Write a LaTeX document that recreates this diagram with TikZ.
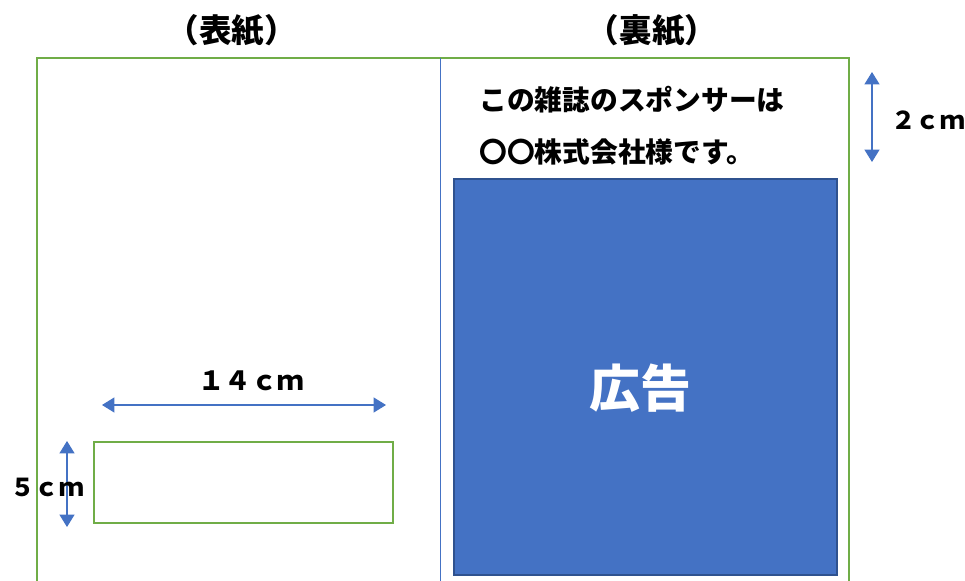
\documentclass[tikz,border=0pt]{standalone}
\usepackage{fontspec}
\newfontfamily\jp{Noto Sans CJK JP}
\usepackage{tikz}
\usetikzlibrary{arrows.meta}
\definecolor{pagegreen}{HTML}{70AD47}
\definecolor{adblue}{HTML}{4472C4}
\definecolor{adedge}{HTML}{2F528F}
\tikzset{title node/.style={font=\jp\bfseries\fontsize{18.5pt}{20pt}\selectfont,inner sep=0pt},
  size node/.style={font=\jp\bfseries\fontsize{14pt}{16pt}\selectfont,inner sep=0pt},
}
\begin{document}
\begin{tikzpicture}[x=0.02cm,y=-0.02cm,>={Triangle[length=7pt,width=8.5pt]},
    green line/.style={draw=pagegreen,line width=1.3pt},
    size arrow/.style={<->,draw=adblue,line width=0.6pt}]
	\useasboundingbox (0,0) rectangle (965,581);
	
	% pages
	\draw[green line] (37,581) |- (849,58) -- (849,581);
	\draw[adblue,line width=0.5pt] (440,58) -- (440,581);
	\node[title node] (front) at (232,31) {（表紙）};
	\node[title node] (back) at (652,31) {（裏紙）};
	
	% back page
	\node[font=\jp\bfseries\fontsize{15.8pt}{18pt}\selectfont,anchor=west,inner sep=0pt] (sponsor1) at (479,100) {この雑誌のスポンサーは};
	\node[font=\jp\bfseries\fontsize{15.8pt}{18pt}\selectfont,anchor=west,inner sep=0pt] (sponsor2) at (479,152) {〇〇株式会社様です。};
	\draw[fill=adblue,draw=adedge,line width=1pt] (454,179) rectangle (837,575);
	\node[font=\jp\bfseries\fontsize{29pt}{32pt}\selectfont,text=white,inner sep=0pt] (ad) at (640,388) {広告};
	\coordinate (top a) at (872,72);
	\coordinate (top b) at (872,162);
	\draw[size arrow] (top a) -- (top b);
	\node[size node] (two) at (928,120) {２ｃｍ};
	
	% front page
	\draw[green line] (94,442) rectangle (393,523);
	\coordinate (wide a) at (102,405);
	\coordinate (wide b) at (386,405);
	\draw[size arrow] (wide a) -- (wide b);
	\node[size node,font=\jp\bfseries\fontsize{15pt}{17pt}\selectfont] (fourteen) at (251,381) {１４ｃｍ};
	\coordinate (high a) at (67,441);
	\coordinate (high b) at (67,527);
	\draw[size arrow] (high a) -- (high b);
	\node[size node] (five) at (47,487) {５ｃｍ};
\end{tikzpicture}
\end{document}
